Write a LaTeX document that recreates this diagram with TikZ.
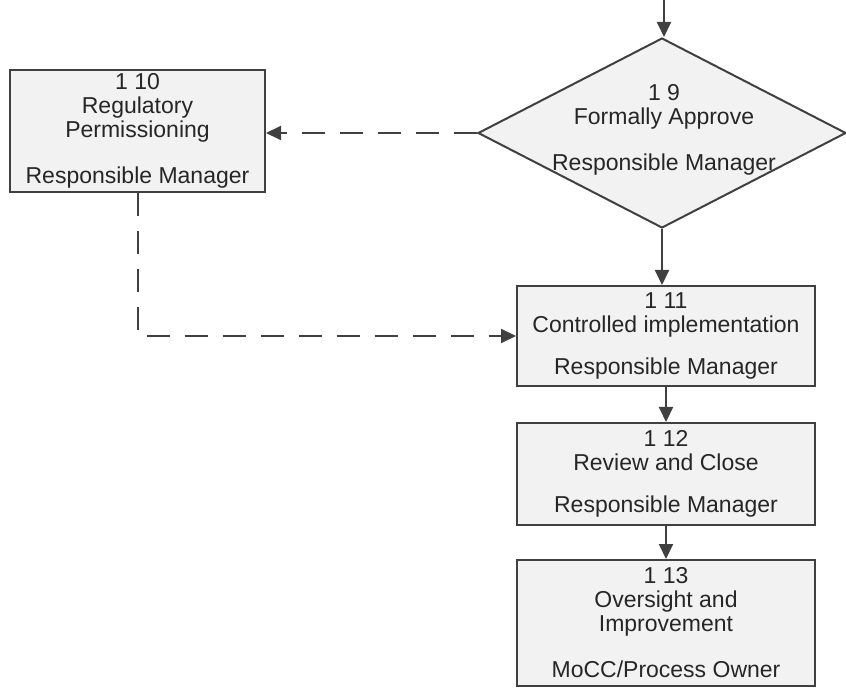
\documentclass[tikz,border=0pt]{standalone}
\usepackage{fontspec}
\setmainfont{Liberation Sans}
\usetikzlibrary{shapes.geometric,arrows.meta}

\begin{document}
\begin{tikzpicture}[x=0.5pt, y=-0.5pt,
  every node/.style={font=\fontsize{11.5}{12}\selectfont, text=black!85},
  procbox/.style={draw=black!75, fill=black!5, line width=1pt, align=center, inner sep=0pt},
  decision/.style={diamond, draw=black!75, fill=black!5, line width=1pt, inner sep=0pt, minimum width=184pt, minimum height=95pt},
  flow/.style={draw=black!75, line width=1pt, -{Triangle[length=7.5pt,width=7pt]}},
  option/.style={flow, dash pattern=on 11.5pt off 7.5pt}]
\useasboundingbox (0,0) rectangle (846,689);

\coordinate (in) at (664,0);
\node[decision] (approve) at (662,133) {};
\node[align=center] (approvetext) at (664,130) {1 9\\Formally Approve\\[11pt]Responsible Manager};

\node[procbox, minimum width=127.5pt, minimum height=61pt] (permit) at (137.5,131) {1 10\\Regulatory\\Permissioning\\[11pt]Responsible Manager};
\node[procbox, minimum width=149pt, minimum height=50pt] (implement) at (666,336) {1 11\\Controlled implementation\\[9pt]Responsible Manager};
\node[procbox, minimum width=149pt, minimum height=51pt] (review) at (666,474) {1 12\\Review and Close\\[9pt]Responsible Manager};
\node[procbox, minimum width=149pt, minimum height=63pt] (oversight) at (666,623) {1 13\\Oversight and\\Improvement\\[11pt]MoCC/Process Owner};

\draw[flow] (in) -- (in |- approve.north);
\draw[flow] (approve.south) -- (approve.south |- implement.north);
\draw[flow] (implement.south) -- (review.north);
\draw[flow] (review.south) -- (oversight.north);

\draw[option] (approve.west) -- (approve.west -| permit.east);
\draw[option] (permit.south) |- (implement.west);
\end{tikzpicture}
\end{document}
